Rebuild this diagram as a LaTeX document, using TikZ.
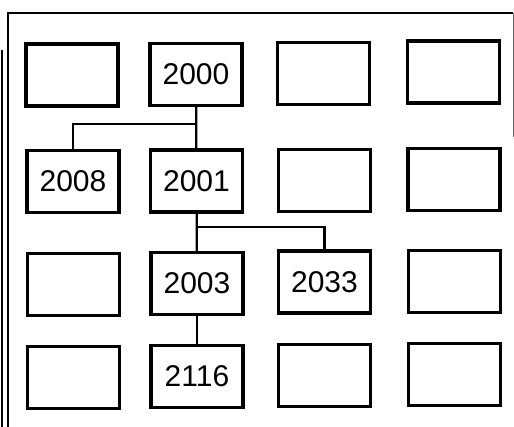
\documentclass[tikz,border=0pt]{standalone}
\usepackage{fontspec}
\setmainfont{Liberation Sans}
\usetikzlibrary{positioning}

\begin{document}
\begin{tikzpicture}[
    x=1pt, y=-1pt,
    cell/.style={draw, line width=3.2pt, minimum width=92pt, minimum height=62pt, inner sep=0pt, font=\fontsize{30}{30}\selectfont},
    link/.style={line width=2.2pt},
    frame/.style={line width=2.8pt}
]
\useasboundingbox (0,0) rectangle (514,427);
% outer frame
\draw[frame] (8,430) -- (8,13) -- (513,13);
\draw[line width=1pt, black!60] (513,13) -- (513,137);
\draw[line width=1.6pt] (2,50) -- (2,430);
% row 1
\node[cell] (b11) at (72,75) {};
\node[cell] (n2000) at (196,74.5) {2000};
\node[cell] (b13) at (323.5,73.5) {};
\node[cell] (b14) at (453.5,72) {};
% row 2
\node[cell] (n2008) at (73,181.5) {2008};
\node[cell] (n2001) at (196.5,181) {2001};
\node[cell] (b23) at (324.5,180.5) {};
\node[cell] (b24) at (454,179.5) {};
% row 3
\node[cell] (b31) at (73.5,284.5) {};
\node[cell] (n2003) at (197,283.5) {2003};
\node[cell] (n2033) at (324.5,282) {2033};
\node[cell] (b34) at (454.5,281.5) {};
% row 4
\node[cell] (b41) at (73.5,377.5) {};
\node[cell] (n2116) at (197,376.5) {2116};
\node[cell] (b43) at (324.5,375.5) {};
\node[cell] (b44) at (454.5,374.5) {};
% links
\coordinate (fork1) at (n2000.south |- 0,124);
\coordinate (fork2) at (n2001.south |- 0,227);
\draw[link] (n2000) -- (n2001);
\draw[link] (fork1) -| (n2008);
\draw[link] (n2001) -- (n2003);
\draw[link] (fork2) -| (n2033);
\draw[link] (n2003) -- (n2116);
\end{tikzpicture}
\end{document}
